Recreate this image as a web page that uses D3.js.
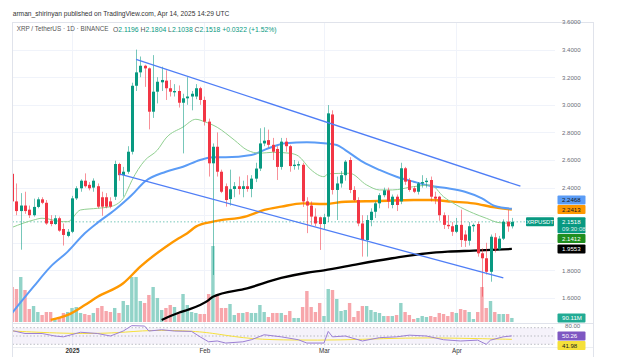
<!DOCTYPE html>
<html><head><meta charset="utf-8">
<script src="https://cdn.jsdelivr.net/npm/d3@7/dist/d3.min.js"></script>
<style>
html,body{margin:0;padding:0;background:#fff;}
svg{display:block;}
text{font-family:"Liberation Sans","DejaVu Sans",Arial,sans-serif;}
</style></head><body>
<svg id="chart" width="631" height="357"></svg>
<script>
// ---------------- DATA ----------------
const firstDay = "2024-12-18";
const lastDay = "2025-04-14";
const open = [2.50,2.30,2.23,2.27,2.24,2.20,2.26,2.315,2.29,2.16,2.136,2.178,2.10,2.05,
2.08,2.322,2.395,2.45,2.42,2.40,2.41,2.33,2.33,2.30,2.334,2.571,2.49,2.515,2.66,3.138,3.235,3.283,3.264,2.95,3.095,3.163,3.175,3.12,3.09,3.10,3.015,3.047,3.06,3.06,3.12,
3.035,2.878,2.576,2.696,2.515,2.41,2.317,2.39,2.41,2.39,2.41,2.39,2.465,2.538,2.72,2.744,2.71,2.68,2.55,2.733,2.70,2.556,2.56,2.565,2.30,2.27,2.19,2.185,
2.136,2.19,2.93,2.383,2.43,2.49,2.60,2.383,2.31,2.14,2.02,2.165,2.225,2.286,2.345,2.38,2.274,2.334,2.30,2.54,2.455,2.395,2.37,2.43,2.44,2.455,2.334,2.334,2.20,2.13,2.12,
2.08,2.13,2.06,2.015,2.12,2.136,1.924,1.888,1.79,2.04,1.953,2.03,2.153,2.1196];
const high = [2.56,2.43,2.36,2.37,2.27,2.32,2.33,2.33,2.31,2.20,2.20,2.19,2.14,2.10,
2.34,2.41,2.46,2.503,2.44,2.467,2.43,2.37,2.36,2.33,2.595,2.58,2.55,2.70,3.16,3.40,3.35,3.29,3.27,3.36,3.20,3.276,3.25,3.18,3.15,3.14,3.08,3.20,3.10,3.15,3.13,
3.06,2.90,2.72,2.80,2.53,2.43,2.53,2.44,2.48,2.45,2.49,2.49,2.58,2.83,2.837,2.82,2.76,2.70,2.76,2.76,2.71,2.60,2.59,2.58,2.33,2.30,2.25,2.19,
2.21,2.998,2.96,2.48,2.52,2.60,2.62,2.41,2.33,2.20,2.20,2.25,2.30,2.36,2.40,2.40,2.35,2.35,2.58,2.55,2.47,2.41,2.44,2.49,2.47,2.48,2.37,2.34,2.22,2.20,2.15,
2.18,2.24,2.09,2.15,2.14,2.15,1.96,2.00,2.06,2.07,2.05,2.17,2.238,2.1804];
const low = [2.26,2.20,1.95,2.21,2.18,2.19,2.25,2.28,2.13,2.12,2.13,2.08,1.98,2.04,
2.07,2.31,2.37,2.40,2.38,2.37,2.25,2.196,2.25,2.25,2.31,2.45,2.334,2.50,2.64,3.10,3.20,3.13,2.822,2.905,3.01,3.10,3.035,3.06,3.06,2.98,2.648,3.00,2.96,3.04,3.00,
2.85,2.48,1.767,2.48,2.36,2.262,2.27,2.33,2.35,2.33,2.37,2.33,2.44,2.52,2.70,2.69,2.60,2.455,2.53,2.66,2.515,2.53,2.53,2.26,2.07,2.13,2.12,1.948,
2.10,2.15,2.35,2.165,2.40,2.45,2.36,2.30,2.12,1.90,1.90,2.12,2.18,2.25,2.33,2.25,2.25,2.23,2.28,2.42,2.37,2.36,2.35,2.40,2.40,2.30,2.28,2.16,2.10,2.10,2.05,
2.07,1.97,1.97,1.98,2.08,1.90,1.61,1.77,1.718,1.93,1.94,2.02,2.08,2.1038];
const close = [2.30,2.23,2.27,2.23,2.20,2.26,2.315,2.29,2.14,2.136,2.178,2.088,2.057,2.08,
2.322,2.395,2.45,2.41,2.395,2.45,2.262,2.262,2.262,2.262,2.571,2.49,2.515,2.66,3.138,3.235,3.283,3.264,2.95,3.095,3.167,3.18,3.12,3.095,3.10,3.015,3.047,3.06,3.08,3.12,3.035,
2.878,2.576,2.696,2.515,2.37,2.31,2.388,2.41,2.39,2.41,2.39,2.465,2.538,2.72,2.74,2.71,2.66,2.55,2.733,2.70,2.556,2.566,2.57,2.30,2.27,2.19,2.14,2.136,
2.185,2.938,2.383,2.43,2.49,2.588,2.383,2.31,2.14,2.02,2.165,2.225,2.286,2.345,2.38,2.30,2.334,2.274,2.54,2.443,2.383,2.37,2.43,2.44,2.45,2.334,2.32,2.20,2.13,2.12,2.08,
2.13,2.02,2.015,2.12,2.13,1.924,1.888,1.79,2.044,1.953,2.03,2.153,2.119,2.1518];
// volume in millions
const volume = [784,739,1008,717,291,358,224,157,224,224,90,112,202,224,
314,336,202,179,157,202,314,358,246,224,314,202,470,381,1008,1008,470,426,605,784,538,269,314,381,336,179,627,381,224,202,179,
179,627,1702,627,314,314,403,157,202,202,224,202,202,381,224,112,202,202,202,157,246,90,90,336,694,336,224,426,
134,739,717,515,246,269,426,112,246,358,358,269,224,202,134,134,134,157,426,224,157,67,90,134,112,134,112,202,179,134,224,
202,291,269,224,67,224,784,314,470,224,179,179,179,90.11];

const ma20Points = [["2024-12-18",2.112],["2024-12-23",2.165],["2024-12-25",2.178],["2024-12-30",2.153],["2024-12-31",2.153],["2025-01-03",2.238],["2025-01-07",2.25],["2025-01-10",2.262],["2025-01-13",2.322],["2025-01-14",2.383],["2025-01-15",2.45],["2025-01-18",2.595],["2025-01-21",2.672],["2025-01-23",2.759],["2025-01-27",2.839],["2025-01-30",2.895],["2025-02-01",2.878],["2025-02-04",2.837],["2025-02-08",2.745],["2025-02-11",2.672],["2025-02-14",2.649],["2025-02-17",2.656],["2025-02-21",2.649],["2025-02-23",2.629],["2025-02-26",2.528],["2025-03-01",2.479],["2025-03-02",2.50],["2025-03-07",2.504],["2025-03-11",2.419],["2025-03-14",2.383],["2025-03-17",2.383],["2025-03-22",2.407],["2025-03-26",2.419],["2025-03-29",2.334],["2025-04-01",2.274],["2025-04-05",2.214],["2025-04-08",2.178],["2025-04-11",2.146],["2025-04-14",2.1412]];
const ma50Points = [["2024-12-18",1.493],["2024-12-23",1.682],["2024-12-27",1.827],["2024-12-31",1.936],["2025-01-04",2.069],["2025-01-07",2.146],["2025-01-11",2.238],["2025-01-15",2.346],["2025-01-18",2.443],["2025-01-23",2.515],["2025-01-27",2.551],["2025-01-31",2.60],["2025-02-03",2.62],["2025-02-06",2.62],["2025-02-12",2.636],["2025-02-16",2.685],["2025-02-20",2.721],["2025-02-25",2.728],["2025-03-01",2.721],["2025-03-04",2.709],["2025-03-06",2.672],["2025-03-10",2.588],["2025-03-14",2.528],["2025-03-18",2.479],["2025-03-22",2.443],["2025-03-26",2.412],["2025-03-30",2.395],["2025-04-03",2.370],["2025-04-07",2.322],["2025-04-10",2.267],["2025-04-14",2.2468]];
const ma100Points = [["2024-12-27",1.441],["2024-12-31",1.477],["2025-01-04",1.549],["2025-01-07",1.609],["2025-01-13",1.707],["2025-01-17",1.827],["2025-01-23",1.972],["2025-01-26",2.033],["2025-01-28",2.069],["2025-01-30",2.117],["2025-02-03",2.153],["2025-02-11",2.194],["2025-02-15",2.238],["2025-02-19",2.262],["2025-02-24",2.286],["2025-03-01",2.281],["2025-03-06",2.298],["2025-03-14",2.303],["2025-03-22",2.310],["2025-03-26",2.310],["2025-03-31",2.298],["2025-04-05",2.286],["2025-04-10",2.257],["2025-04-14",2.2413]];
const ma200Points = [["2025-01-22",1.441],["2025-01-26",1.493],["2025-01-28",1.513],["2025-02-02",1.585],["2025-02-03",1.609],["2025-02-11",1.670],["2025-02-19",1.745],["2025-02-25",1.783],["2025-03-01",1.80],["2025-03-09",1.846],["2025-03-17",1.888],["2025-03-25",1.924],["2025-03-30",1.936],["2025-04-05",1.943],["2025-04-14",1.9553]];

const upperTrend = [["2025-01-16",3.33],["2025-04-16",2.41]];
const lowerTrend = [["2025-01-12",2.50],["2025-04-12",1.745]];

const rsiPoints = [["2024-12-18",63],["2024-12-21",56],["2024-12-25",56],["2024-12-28",50],["2024-12-30",48],["2025-01-03",59],["2025-01-07",56],["2025-01-10",50],["2025-01-13",62],["2025-01-15",75],["2025-01-18",74],["2025-01-19",62],["2025-01-22",65],["2025-01-25",62],["2025-01-29",61],["2025-01-31",48],["2025-02-02",36],["2025-02-04",38],["2025-02-06",33],["2025-02-10",36],["2025-02-12",41],["2025-02-15",53],["2025-02-19",48],["2025-02-23",41],["2025-02-25",33],["2025-03-01",33],["2025-03-02",61],["2025-03-03",48],["2025-03-06",50],["2025-03-10",38],["2025-03-14",46],["2025-03-18",48],["2025-03-21",52],["2025-03-25",50],["2025-03-29",41],["2025-04-02",38],["2025-04-06",40],["2025-04-08",30],["2025-04-09",40],["2025-04-12",48],["2025-04-14",50.26]];
const rsiMaPoints = [["2024-12-18",62],["2025-01-01",55],["2025-01-12",57],["2025-01-19",65],["2025-01-30",62],["2025-02-04",55],["2025-02-12",42],["2025-02-22",40],["2025-03-05",40],["2025-03-15",44],["2025-03-25",46],["2025-04-05",44],["2025-04-14",41.98]];

const priceTicks = [1.6,1.8,2.0,2.2,2.4,2.6,2.8,3.0,3.2,3.4,3.6];
const rsiBands = [70,50,30];
const timeTicks = [["2025-01-01","2025"],["2025-02-01","Feb"],["2025-03-01","Mar"],["2025-04-01","Apr"]];

const headerText = "arman_shirinyan published on TradingView.com, Apr 14, 2025 14:29 UTC";
const symbolText = "XRP / TetherUS \u00b7 1D \u00b7 BINANCE";
const ohlcLabels = [["O","2.1196"],["H","2.1804"],["L","2.1038"],["C","2.1518"]];
const changeText = "+0.0322 (+1.52%)";
const priceLabels = [
  {value:2.2468, text:"2.2468", bg:"#5b9cf6", fg:"#131722"},
  {value:2.2413, text:"2.2413", bg:"#ff9800", fg:"#131722"},
  {value:2.1518, text:"2.1518", sub:"09:30:08", bg:"#089981", fg:"#ffffff", main:true},
  {value:2.1412, text:"2.1412", bg:"#1f8e1f", fg:"#ffffff"},
  {value:1.9553, text:"1.9553", bg:"#000000", fg:"#ffffff"}
];
const volumeLabel = {value:90.11, text:"90.11M", bg:"#22ab94", fg:"#ffffff"};
const rsiLabels = [
  {value:50.26, text:"50.26", bg:"#7e57c2", fg:"#ffffff", main:true},
  {value:41.98, text:"41.98", bg:"#f5e03a", fg:"#131722"}
];
const symbolTag = "XRPUSDT";

// ---------------- LAYOUT ----------------
const svg = d3.select("#chart");
const parse = d3.utcParse("%Y-%m-%d");
const dates = d3.utcDay.range(parse(firstDay), d3.utcDay.offset(parse(lastDay), 1));
const pane = {left:12.5, right:555, top:22.5, bottom:323};
const rsiPane = {top:323.5, bottom:347};
const axisX = 562;
const dayMs = 864e5, jan1 = Date.UTC(2025,0,1);
const x = d3.scaleUtc().domain([new Date(jan1 - 13.93*dayMs), new Date(jan1 + 113.1*dayMs)]).range([pane.left, pane.right]);
const y = d3.scaleLinear().domain([1.6, 3.6]).range([298, 22]);
const yV = d3.scaleLinear().domain([0, d3.max(volume)]).range([322, 246]);
const yR = d3.scaleLinear().domain([30, 70]).range([344.3, 327.7]);

const upC = "#089981", dnC = "#f23645";
const bars = dates.map((d,i)=>({date:d,o:open[i],h:high[i],l:low[i],c:close[i],v:volume[i]}));

const defs = svg.append("defs");
defs.append("clipPath").attr("id","clipMain").append("rect")
  .attr("x",pane.left).attr("y",pane.top).attr("width",pane.right-pane.left).attr("height",pane.bottom-pane.top);
defs.append("clipPath").attr("id","clipRsi").append("rect")
  .attr("x",pane.left).attr("y",rsiPane.top).attr("width",pane.right-pane.left).attr("height",rsiPane.bottom-rsiPane.top);
defs.append("clipPath").attr("id","clipRsiAxis").append("rect")
  .attr("x",pane.right).attr("y",rsiPane.top).attr("width",40).attr("height",rsiPane.bottom-rsiPane.top);

svg.append("rect").attr("width",631).attr("height",357).attr("fill","#fff");

// grid
const grid = svg.append("g");
grid.selectAll("line.h").data(priceTicks).join("line")
  .attr("x1",pane.left).attr("x2",pane.right)
  .attr("y1",d=>Math.round(y(d))+0.5).attr("y2",d=>Math.round(y(d))+0.5)
  .attr("stroke","#f0f3fa").attr("stroke-width",1);
grid.selectAll("line.v").data(timeTicks).join("line")
  .attr("x1",d=>Math.round(x(parse(d[0])))+0.5).attr("x2",d=>Math.round(x(parse(d[0])))+0.5)
  .attr("y1",pane.top).attr("y2",rsiPane.bottom)
  .attr("stroke","#f0f3fa").attr("stroke-width",1);

// main pane
const main = svg.append("g").attr("clip-path","url(#clipMain)");
const bw = 3.4;
main.selectAll("rect.vol").data(bars).join("rect")
  .attr("x",d=>x(d.date)-bw/2).attr("width",bw)
  .attr("y",d=>yV(d.v)).attr("height",d=>yV(0)-yV(d.v))
  .attr("fill",d=>d.c>=d.o?"#92d3c8":"#f7a6ab");

// current price line
main.append("line").attr("x1",pane.left).attr("x2",pane.right)
  .attr("y1",y(close[close.length-1])).attr("y2",y(close[close.length-1]))
  .attr("stroke",upC).attr("stroke-opacity",0.55).attr("stroke-dasharray","1.5,2").attr("stroke-width",1);

const lineGen = d3.line().x(d=>x(parse(d[0]))).y(d=>y(d[1])).curve(d3.curveMonotoneX);
main.append("path").datum(ma200Points).attr("d",lineGen).attr("fill","none").attr("stroke","#000").attr("stroke-width",2.3);
main.append("path").datum(ma100Points).attr("d",lineGen).attr("fill","none").attr("stroke","#ff9800").attr("stroke-width",2.4);
main.append("path").datum(ma50Points).attr("d",lineGen).attr("fill","none").attr("stroke","#5b9cf6").attr("stroke-width",2);
main.append("path").datum(ma20Points).attr("d",lineGen).attr("fill","none").attr("stroke","#90cf90").attr("stroke-width",1);

// candles
const cx = d=>Math.round(x(d.date));
main.selectAll("line.wick").data(bars).join("line")
  .attr("x1",d=>cx(d)+0.5).attr("x2",d=>cx(d)+0.5)
  .attr("y1",d=>y(d.h)).attr("y2",d=>y(d.l))
  .attr("stroke",d=>d.c>=d.o?upC:dnC).attr("stroke-opacity",0.55).attr("stroke-width",1);
main.selectAll("rect.body").data(bars).join("rect")
  .attr("x",d=>cx(d)-1).attr("width",3)
  .attr("y",d=>y(Math.max(d.o,d.c)))
  .attr("height",d=>Math.max(1,Math.abs(y(d.o)-y(d.c))))
  .attr("fill",d=>d.c>=d.o?upC:dnC);

// trend lines
const tl = d3.line().x(d=>x(parse(d[0]))).y(d=>y(d[1]));
[upperTrend, lowerTrend].forEach(t=>{
  main.append("path").datum(t).attr("d",tl).attr("fill","none").attr("stroke","#4f7ef6").attr("stroke-width",1.3);
});

// RSI pane
const rsiG = svg.append("g").attr("clip-path","url(#clipRsi)");
rsiG.append("rect").attr("x",pane.left).attr("width",pane.right-pane.left)
  .attr("y",yR(70)).attr("height",yR(30)-yR(70)).attr("fill","#7e57c2").attr("fill-opacity",0.08);
rsiG.selectAll("line.band").data(rsiBands).join("line")
  .attr("x1",pane.left).attr("x2",pane.right).attr("y1",d=>yR(d)).attr("y2",d=>yR(d))
  .attr("stroke","#9598a1").attr("stroke-opacity",0.6).attr("stroke-dasharray","1.5,2");
rsiG.append("path").datum(rsiMaPoints).attr("d",d3.line().x(d=>x(parse(d[0]))).y(d=>yR(d[1])).curve(d3.curveBasis)).attr("fill","none").attr("stroke","#f5e03a").attr("stroke-width",1);
rsiG.append("path").datum(rsiPoints).attr("d",d3.line().x(d=>x(parse(d[0]))).y(d=>yR(d[1]))).attr("fill","none").attr("stroke","#9b7fd4").attr("stroke-width",1);

// frame and separators
svg.append("line").attr("x1",pane.left).attr("x2",593.5).attr("y1",pane.bottom+0.5).attr("y2",pane.bottom+0.5).attr("stroke","#e0e3eb");
svg.append("line").attr("x1",pane.left).attr("x2",593.5).attr("y1",rsiPane.bottom+0.5).attr("y2",rsiPane.bottom+0.5).attr("stroke","#eceef2");
svg.append("rect").attr("x",pane.left).attr("y",pane.top).attr("width",593.5-pane.left).attr("height",357-pane.top+2)
  .attr("fill","none").attr("stroke","#e0e3eb");

// axis labels (boxes) layout first, so hidden tick labels can be skipped
const fs = 6.1;
const lh = 9, gap = 0.6;
function placeLabels(items, scale){
  items.forEach(it=>{ it.h = it.sub ? 16 : lh; it.c = scale(it.value); });
  const m = items.find(it=>it.main) || items[0];
  m.top = m.c - lh/2;
  const above = items.filter(it=>it!==m && it.value>m.value).sort((a,b)=>a.value-b.value);
  let lim = m.top - gap;
  above.forEach(it=>{ let b = Math.min(it.c + lh/2, lim); it.top = b - it.h; lim = it.top - gap; });
  const below = items.filter(it=>it!==m && it.value<m.value).sort((a,b)=>b.value-a.value);
  lim = m.top + m.h + gap;
  below.forEach(it=>{ let t = Math.max(it.c - lh/2, lim); it.top = t; lim = t + it.h + gap; });
}
placeLabels(priceLabels, y);
const vItems = [volumeLabel]; placeLabels(vItems, yV);
placeLabels(rsiLabels, yR);
const allBoxes = priceLabels.concat(vItems, rsiLabels);
const hidden = v => { const c = y(v); return allBoxes.some(b => c + 3 > b.top && c - 3 < b.top + b.h); };

// price axis
const pAxis = d3.axisRight(y).tickValues(priceTicks.filter(v=>!hidden(v))).tickFormat(d3.format(".4f")).tickSize(0).tickPadding(0);
const pa = svg.append("g").attr("transform",`translate(${axisX},0)`).call(pAxis);
pa.select(".domain").remove();
pa.selectAll("text").attr("font-size",fs).attr("fill","#6a6d78").attr("font-family","Liberation Sans, Arial, sans-serif");

// RSI axis top label 80.00
const rAxis = d3.axisRight(yR).tickValues([80]).tickFormat(d3.format(".2f")).tickSize(0).tickPadding(0);
const ra = svg.append("g").attr("clip-path","url(#clipRsiAxis)").append("g").attr("transform",`translate(${axisX+3},1.5)`).call(rAxis);
ra.select(".domain").remove();
ra.selectAll("text").attr("font-size",fs).attr("fill","#6a6d78").attr("font-family","Liberation Sans, Arial, sans-serif");

// time axis
const tAxis = d3.axisBottom(x).tickValues(timeTicks.map(t=>parse(t[0]))).tickSize(0).tickPadding(0)
  .tickFormat((d,i)=>timeTicks[i][1]);
const ta = svg.append("g").attr("transform",`translate(0,${rsiPane.bottom+2})`).call(tAxis);
ta.select(".domain").remove();
ta.selectAll("text").attr("font-size",6.3).attr("fill","#333").attr("font-family","Liberation Sans, Arial, sans-serif")
  .attr("font-weight",(d,i)=>i===0?"bold":"normal");

function drawLabels(items){
  const g = svg.append("g");
  items.forEach(it=>{
    g.append("rect").attr("x",557.5).attr("y",it.top).attr("width",28).attr("height",it.h).attr("rx",1)
      .attr("fill",it.bg);
    g.append("text").attr("x",axisX).attr("y",it.top+lh/2).attr("dy","0.34em")
      .attr("font-size",fs).attr("fill",it.fg).text(it.text);
    if(it.sub){
      g.append("text").attr("x",axisX).attr("y",it.top+lh/2+7).attr("dy","0.34em")
        .attr("font-size",fs).attr("fill",it.fg).attr("fill-opacity",0.85).text(it.sub);
    }
  });
}
drawLabels(priceLabels);
drawLabels(vItems);
drawLabels(rsiLabels);

// symbol tag left of axis
const mainLbl = priceLabels.find(p=>p.main);
svg.append("rect").attr("x",526).attr("y",mainLbl.top).attr("width",28).attr("height",lh).attr("rx",1).attr("fill",upC);
svg.append("text").attr("x",540).attr("y",mainLbl.top+lh/2).attr("dy","0.34em").attr("text-anchor","middle")
  .attr("font-size",5.8).attr("fill","#fff").text(symbolTag);

// header
function fit(sel, target){ const w = sel.node().getComputedTextLength(); sel.attr("font-size", parseFloat(sel.attr("font-size"))*target/w); }
const h1 = svg.append("text").attr("x",12.7).attr("y",14).attr("dy","0.34em").attr("font-size",7).attr("fill","#333").text(headerText);
fit(h1, 217);
const h2 = svg.append("text").attr("x",16.7).attr("y",29.3).attr("dy","0.34em").attr("font-size",6.5).attr("fill","#555").text(symbolText);
fit(h2, 92);
const h2fs = parseFloat(h2.attr("font-size"));
const ohlc = svg.append("text").attr("x",113).attr("y",29.3).attr("dy","0.34em").attr("font-size",h2fs);
ohlcLabels.forEach((p,i)=>{
  ohlc.append("tspan").attr("fill","#555").text((i?" ":"")+p[0]);
  ohlc.append("tspan").attr("fill",upC).text(p[1]);
});
ohlc.append("tspan").attr("fill",upC).text(" "+changeText);
fit(ohlc, 163.7);
</script>
</body></html>
